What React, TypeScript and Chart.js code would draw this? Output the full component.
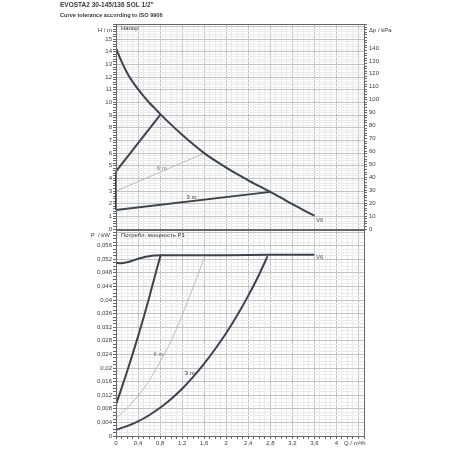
import React, { useEffect, useRef } from "react";
import { Chart, registerables } from "chart.js";

Chart.register(...registerables);

const FONT = "'Liberation Sans', Arial, sans-serif";

const TITLE = 'EVOSTA2 30-145/136 SOL 1/2"';
const SUBTITLE = "Curve tolerance according to ISO 9906";
const HEAD_TITLE = "Напор";
const POWER_TITLE = "Потребл. мощность P1";
const H_UNIT = "H / m";
const KPA_UNIT = "Δp / kPa";
const P_UNIT = "P  / kW";
const Q_UNIT = "Q / m³/h";
const LABEL_6M = "6 m";
const LABEL_3M = "3 m";
const LABEL_V6 = "V6";

// Head (H, m) vs flow (Q, m3/h)
const headMaxQ = [0, 0.1, 0.2, 0.3, 0.4, 0.5, 0.6, 0.7, 0.8, 1.0, 1.2, 1.4, 1.6, 1.8, 2.0, 2.2, 2.4, 2.6, 2.8, 3.0, 3.2, 3.4, 3.6];
const headMaxH = [14.3, 13.25, 12.35, 11.65, 11.05, 10.5, 10.0, 9.55, 9.1, 8.25, 7.45, 6.7, 6.0, 5.4, 4.85, 4.33, 3.85, 3.38, 2.93, 2.45, 1.96, 1.5, 1.05];
const headMaxSetQ = [0, 0.81];
const headMaxSetH = [4.55, 9.06];
const head6mQ = [0, 1.6];
const head6mH = [3.0, 5.99];
const head3mQ = [0, 2.8];
const head3mH = [1.5, 2.93];
const headZeroQ = [0, 0];
const headZeroH = [1.5, 4.55];

// Power (P1, kW) vs flow (Q, m3/h)
const powerMaxQ = [0, 0.08, 0.2, 0.3, 0.4, 0.5, 0.6, 0.7, 0.8, 1.2, 2.0, 2.8, 3.6];
const powerMaxP = [0.0510, 0.0508, 0.0511, 0.0516, 0.0521, 0.0526, 0.0529, 0.0531, 0.0532, 0.0532, 0.0532, 0.0533, 0.0533];
const powerMaxSetQ = [0, 0.1, 0.2, 0.3, 0.4, 0.5, 0.6, 0.7, 0.81];
const powerMaxSetP = [0.0093, 0.0140, 0.0189, 0.0240, 0.0293, 0.0348, 0.0406, 0.0467, 0.0532];
const power6mQ = [0, 0.2, 0.4, 0.6, 0.8, 1.0, 1.2, 1.4, 1.62];
const power6mP = [0.0052, 0.0082, 0.0118, 0.0163, 0.0218, 0.0280, 0.0355, 0.0438, 0.0532];
const power3mQ = [0, 0.2, 0.4, 0.6, 0.8, 1.0, 1.2, 1.4, 1.6, 1.8, 2.0, 2.2, 2.4, 2.6, 2.75];
const power3mP = [0.0018, 0.0029, 0.0043, 0.0061, 0.0083, 0.0109, 0.0139, 0.0174, 0.0213, 0.0256, 0.0303, 0.0355, 0.0413, 0.0476, 0.0529];

// Tick labels
const qTickLabels = ["0", "0,4", "0,8", "1,2", "1,6", "2", "2,4", "2,8", "3,2", "3,6", "4"];
const hTickLabels = ["0", "1", "2", "3", "4", "5", "6", "7", "8", "9", "10", "11", "12", "13", "14", "15"];
const kpaTickLabels = ["0", "10", "20", "30", "40", "50", "60", "70", "80", "90", "100", "110", "120", "130", "140"];
const pTickLabels = ["0", "0,004", "0,008", "0,012", "0,016", "0,02", "0,024", "0,028", "0,032", "0,036", "0,04", "0,044", "0,048", "0,052", "0,056"];

const Q_MAX = 4.5;
const H_MAX = 16.2;
const KPA_MAX = 158.5;
const P_MAX = 0.0606;

const DARK = "#3b4250";
const LIGHT = "#bcbcbc";
const GRID_MAJOR = "#c2c2c2";
const GRID_MINOR = "#ebebeb";
const AXIS = "#666666";
const TEXT = "#3a3a3a";

const zip = (xs: number[], ys: number[]) => xs.map((x, i) => ({ x, y: ys[i] }));

function range(n: number, step: number) {
  const out: number[] = [];
  for (let i = 0; i <= n; i++) out.push(Math.round(i * step * 100000) / 100000);
  return out;
}

function text(ctx: CanvasRenderingContext2D, s: string, x: number, y: number, o: any = {}) {
  ctx.save();
  ctx.font = `${o.bold ? "bold " : ""}${o.size || 6}px ${FONT}`;
  ctx.fillStyle = o.color || TEXT;
  ctx.textAlign = o.align || "left";
  ctx.textBaseline = o.baseline || "middle";
  ctx.fillText(s, x, y);
  ctx.restore();
}

function frame(chart: any) {
  const { ctx, chartArea: a } = chart;
  ctx.save();
  ctx.strokeStyle = AXIS;
  ctx.lineWidth = 1;
  ctx.strokeRect(Math.round(a.left) + 0.5, Math.round(a.top) + 0.5, Math.round(a.right - a.left), Math.round(a.bottom - a.top));
  ctx.restore();
}

const qTicks = range(45, 0.1);
const qScale = (showLabels: boolean) => ({
  type: "linear",
  min: 0,
  max: Q_MAX,
  position: "bottom",
  afterBuildTicks: (s: any) => {
    s.ticks = qTicks.map((v) => ({ value: v }));
  },
  afterFit: (s: any) => {
    s.height = showLabels ? 14 : 0;
  },
  border: { display: false },
  grid: {
    color: (c: any) => (Math.round((c.tick ? c.tick.value : 0) * 10) % 4 === 0 ? GRID_MAJOR : GRID_MINOR),
    tickColor: AXIS,
    tickLength: 3,
    drawTicks: showLabels,
    lineWidth: 1,
  },
  ticks: {
    display: showLabels,
    autoSkip: false,
    maxRotation: 0,
    minRotation: 0,
    padding: 1,
    color: TEXT,
    font: { size: 6, family: FONT },
    callback: (_v: any, i: number) => (i % 4 === 0 && i / 4 < qTickLabels.length ? qTickLabels[i / 4] : ""),
  },
});

function HeadChart() {
  const ref = useRef<HTMLCanvasElement>(null);
  useEffect(() => {
    const hTicks = range(81, 0.2);
    const kTicks = range(79, 2);
    const labels = {
      id: "headLabels",
      afterDraw(chart: any) {
        const { ctx, scales } = chart;
        frame(chart);
        const x = scales.x, y = scales.y;
        text(ctx, TITLE, 60, 5, { bold: true, size: 6.5 });
        text(ctx, SUBTITLE, 60, 15, { bold: true, size: 5.6 });
        text(ctx, H_UNIT, 112, 30, { align: "right", size: 6 });
        text(ctx, KPA_UNIT, 369, 30, { size: 6 });
        text(ctx, HEAD_TITLE, 121, 28, { size: 6 });
        text(ctx, LABEL_6M, x.getPixelForValue(0.83), y.getPixelForValue(4.78), { align: "center", size: 6, color: "#777" });
        text(ctx, LABEL_3M, x.getPixelForValue(1.37), y.getPixelForValue(2.5), { align: "center", size: 6 });
        text(ctx, LABEL_V6, x.getPixelForValue(3.63), y.getPixelForValue(0.7), { size: 6, color: "#555" });
      },
    };
    const chart = new Chart(ref.current as HTMLCanvasElement, {
      type: "line",
      data: {
        datasets: [
          { data: zip(headMaxQ, headMaxH), borderColor: DARK, borderWidth: 2, cubicInterpolationMode: "monotone" },
          { data: zip(headMaxSetQ, headMaxSetH), borderColor: DARK, borderWidth: 2 },
          { data: zip(head6mQ, head6mH), borderColor: LIGHT, borderWidth: 1 },
          { data: zip(head3mQ, head3mH), borderColor: DARK, borderWidth: 1.8 },
          { data: zip(headZeroQ, headZeroH), borderColor: DARK, borderWidth: 2, clip: false },
        ] as any,
      },
      options: {
        animation: false,
        responsive: false,
        events: [],
        parsing: false,
        elements: { point: { radius: 0 }, line: { tension: 0 } },
        layout: { padding: { top: 24, bottom: 11, left: 0, right: 0 } },
        plugins: { legend: { display: false }, tooltip: { enabled: false } },
        scales: {
          x: qScale(false),
          y: {
            type: "linear",
            min: 0,
            max: H_MAX,
            position: "left",
            afterBuildTicks: (s: any) => {
              s.ticks = hTicks.map((v) => ({ value: v }));
            },
            afterFit: (s: any) => {
              s.width = 116;
            },
            border: { display: false },
            grid: {
              color: (c: any) => (Math.round((c.tick ? c.tick.value : 0) * 5) % 5 === 0 ? GRID_MAJOR : GRID_MINOR),
              tickColor: AXIS,
              tickLength: 3,
            },
            ticks: {
              autoSkip: false,
              padding: 1,
              color: TEXT,
              font: { size: 6, family: FONT },
              callback: (_v: any, i: number) => (i % 5 === 0 && i / 5 < hTickLabels.length ? hTickLabels[i / 5] : ""),
            },
          },
          k: {
            type: "linear",
            min: 0,
            max: KPA_MAX,
            position: "right",
            afterBuildTicks: (s: any) => {
              s.ticks = kTicks.map((v) => ({ value: v }));
            },
            afterFit: (s: any) => {
              s.width = 86;
            },
            border: { display: false },
            grid: { drawOnChartArea: false, color: AXIS, tickLength: 3 },
            ticks: {
              autoSkip: false,
              padding: 2,
              color: TEXT,
              font: { size: 6, family: FONT },
              callback: (_v: any, i: number) => (i % 5 === 0 && i / 5 < kpaTickLabels.length ? kpaTickLabels[i / 5] : ""),
            },
          },
        } as any,
      },
      plugins: [labels],
    });
    return () => chart.destroy();
  }, []);
  return <canvas ref={ref} width={450} height={240} style={{ position: "absolute", left: 0, top: 0, width: 450, height: 240 }} />;
}

function PowerChart() {
  const ref = useRef<HTMLCanvasElement>(null);
  useEffect(() => {
    const pTicks = range(60, 0.001);
    const labels = {
      id: "powerLabels",
      afterDraw(chart: any) {
        const { ctx, scales } = chart;
        frame(chart);
        const x = scales.x, y = scales.y;
        const top = 222;
        text(ctx, P_UNIT, 110, 235 - top, { align: "right", size: 6 });
        text(ctx, POWER_TITLE, 121, 235 - top, { size: 6 });
        text(ctx, Q_UNIT, 344, 443 - top, { size: 6 });
        text(ctx, LABEL_6M, x.getPixelForValue(0.77), y.getPixelForValue(0.024), { align: "center", size: 6, color: "#777" });
        text(ctx, LABEL_3M, x.getPixelForValue(1.34), y.getPixelForValue(0.0185), { align: "center", size: 6 });
        text(ctx, LABEL_V6, x.getPixelForValue(3.63), y.getPixelForValue(0.0525), { size: 6, color: "#555" });
      },
    };
    const chart = new Chart(ref.current as HTMLCanvasElement, {
      type: "line",
      data: {
        datasets: [
          { data: zip(powerMaxQ, powerMaxP), borderColor: DARK, borderWidth: 2, cubicInterpolationMode: "monotone" },
          { data: zip(powerMaxSetQ, powerMaxSetP), borderColor: DARK, borderWidth: 2, cubicInterpolationMode: "monotone" },
          { data: zip(power6mQ, power6mP), borderColor: LIGHT, borderWidth: 1, cubicInterpolationMode: "monotone" },
          { data: zip(power3mQ, power3mP), borderColor: DARK, borderWidth: 2, cubicInterpolationMode: "monotone" },
        ] as any,
      },
      options: {
        animation: false,
        responsive: false,
        events: [],
        parsing: false,
        elements: { point: { radius: 0 }, line: { tension: 0 } },
        layout: { padding: { top: 8, bottom: 0, left: 0, right: 86 } },
        plugins: { legend: { display: false }, tooltip: { enabled: false } },
        scales: {
          x: qScale(true),
          y: {
            type: "linear",
            min: 0,
            max: P_MAX,
            position: "left",
            afterBuildTicks: (s: any) => {
              s.ticks = pTicks.map((v) => ({ value: v }));
            },
            afterFit: (s: any) => {
              s.width = 116;
            },
            border: { display: false },
            grid: {
              color: (c: any) => (Math.round((c.tick ? c.tick.value : 0) * 1000) % 4 === 0 ? GRID_MAJOR : GRID_MINOR),
              tickColor: AXIS,
              tickLength: 3,
            },
            ticks: {
              autoSkip: false,
              padding: 1,
              color: TEXT,
              font: { size: 6, family: FONT },
              callback: (_v: any, i: number) => (i % 4 === 0 && i / 4 < pTickLabels.length ? pTickLabels[i / 4] : ""),
            },
          },
        } as any,
      },
      plugins: [labels],
    });
    return () => chart.destroy();
  }, []);
  return <canvas ref={ref} width={450} height={228} style={{ position: "absolute", left: 0, top: 222, width: 450, height: 228 }} />;
}

export default function App() {
  return (
    <div style={{ position: "fixed", left: 0, top: 0, width: 450, height: 450, background: "#fff", overflow: "hidden" }}>
      <PowerChart />
      <HeadChart />
    </div>
  );
}
